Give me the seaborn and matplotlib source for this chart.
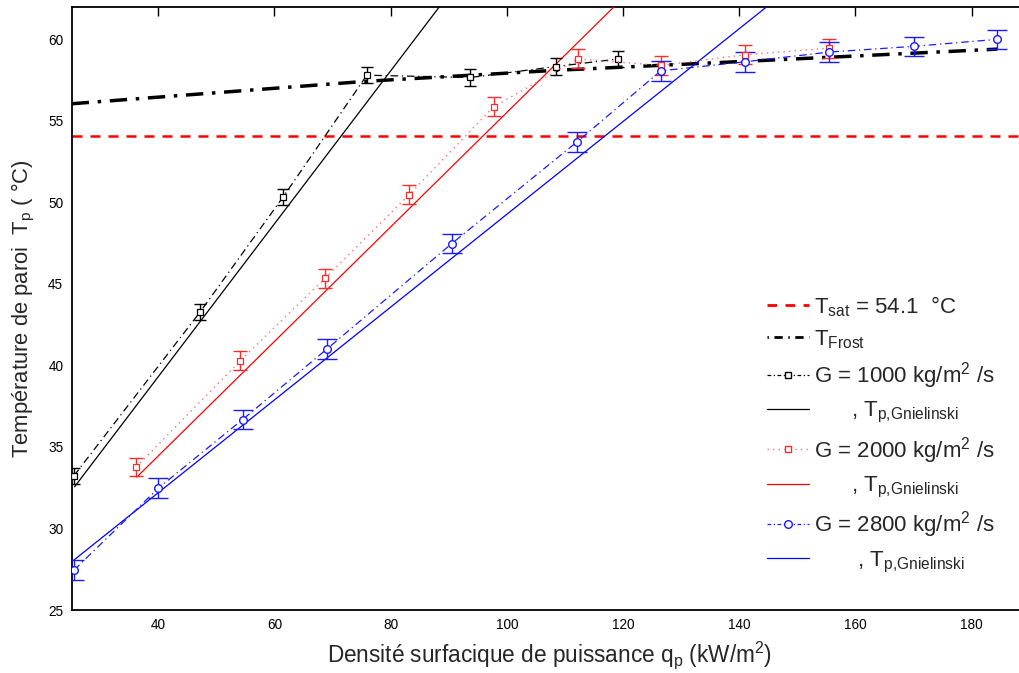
import matplotlib
matplotlib.use("Agg")
import matplotlib.pyplot as plt
from matplotlib.lines import Line2D
import numpy as np
import pandas as pd
import seaborn as sns

# ---- data ----
q_1000 = [25.5, 47.2, 61.5, 75.9, 93.7, 108.4, 119.2]
T_1000 = [33.24, 43.28, 50.34, 57.8, 57.66, 58.33, 58.8]
err_1000 = 0.5

q_2000 = [36.2, 54.1, 68.7, 83.2, 97.7, 112.2, 126.5, 140.9, 155.5]
T_2000 = [33.77, 40.28, 45.35, 50.48, 55.86, 58.8, 58.4, 59.05, 59.46]
err_2000 = 0.58

q_2800 = [25.5, 40.0, 54.5, 69.0, 90.5, 112.0, 126.5, 140.9, 155.5, 170.0, 184.4]
T_2800 = [27.45, 32.47, 36.68, 41.0, 47.47, 53.69, 58.07, 58.62, 59.22, 59.57, 60.0]
err_2800 = 0.6

# Gnielinski correlation lines
qG_1000 = [25.6, 95.0]
TG_1000 = [32.56, 65.1]
qG_2000 = [36.3, 125.0]
TG_2000 = [33.15, 64.3]
qG_2800 = [25.5, 150.0]
TG_2800 = [28.07, 63.5]

# Frost temperature
q_frost = [25.1, 75.9, 108.4, 140.9, 184.4]
T_frost = [56.05, 57.43, 58.1, 58.65, 59.4]

T_sat = 54.1

xticks = [40, 60, 80, 100, 120, 140, 160, 180]
yticks = [25, 30, 35, 40, 45, 50, 55, 60]

# ---- style ----
sns.set_theme(style="white")
plt.rcParams["font.family"] = ["Liberation Sans", "DejaVu Sans"]
plt.rcParams["mathtext.fontset"] = "custom"
plt.rcParams["mathtext.rm"] = "Liberation Sans"
plt.rcParams["mathtext.it"] = "Liberation Sans:italic"

fig = plt.figure(figsize=(10.2, 6.73), dpi=100)
ax = fig.add_axes([0.0703, 0.0936, 0.9376, 0.8964])

BLACK = "#000000"
RED = "#ff2a2a"
BLUE = "#1a1aff"

# Tsat
ax.axhline(T_sat, color="#ff0000", lw=1.8, linestyle=(0, (4, 3.2)), zorder=2)
# Frost
sns.lineplot(x=q_frost, y=T_frost, ax=ax, color=BLACK, lw=2.5,
             linestyle=(0, (5, 2.5, 1, 2.5)), sort=False, estimator=None, zorder=3)

# error bars
ax.errorbar(q_1000, T_1000, yerr=err_1000, fmt="none", ecolor=BLACK, elinewidth=1.0,
            capsize=4, capthick=1.0, zorder=4)
ax.errorbar(q_2000, T_2000, yerr=err_2000, fmt="none", ecolor=RED, elinewidth=1.0,
            capsize=5, capthick=1.0, zorder=4)
ax.errorbar(q_2800, T_2800, yerr=err_2800, fmt="none", ecolor=BLUE, elinewidth=1.0,
            capsize=7, capthick=1.0, zorder=4)

# measured series and Gnielinski lines
sns.lineplot(x=q_1000, y=T_1000, ax=ax, color=BLACK, lw=0.9, linestyle=(0, (6, 3, 1, 3)),
             marker="s", markersize=4, markerfacecolor="white", markeredgecolor=BLACK,
             markeredgewidth=0.9, sort=False, estimator=None, zorder=5)
sns.lineplot(x=qG_1000, y=TG_1000, ax=ax, color=BLACK, lw=0.9, sort=False, estimator=None, zorder=3)

sns.lineplot(x=q_2000, y=T_2000, ax=ax, color="#ff7070", lw=1.0, linestyle=(0, (1, 3)),
             marker="s", markersize=4.5, markerfacecolor="white", markeredgecolor=RED,
             markeredgewidth=0.9, sort=False, estimator=None, zorder=5)
sns.lineplot(x=qG_2000, y=TG_2000, ax=ax, color="#ff0000", lw=0.9, sort=False, estimator=None, zorder=3)

sns.lineplot(x=q_2800, y=T_2800, ax=ax, color=BLUE, lw=0.9, linestyle=(0, (6, 3, 1, 3)),
             marker="o", markersize=5.5, markerfacecolor="white", markeredgecolor=BLUE,
             markeredgewidth=1.0, sort=False, estimator=None, zorder=5)
sns.lineplot(x=qG_2800, y=TG_2800, ax=ax, color="#0000ff", lw=0.9, sort=False, estimator=None, zorder=3)

ax.set_xlim(25.1, 189.7)
ax.set_ylim(25, 62)
ax.set_xticks(xticks)
ax.set_yticks(yticks)
ax.tick_params(axis="both", which="both", direction="in", length=6.5, width=1.0,
               top=True, right=True, labelsize=9.8, colors=BLACK, pad=6)
for side in ["left", "bottom", "top", "right"]:
    ax.spines[side].set_linewidth(1.3)
    ax.spines[side].set_color(BLACK)

ax.set_xlabel(r"Densité surfacique de puissance q$_\mathrm{p}$ (kW/m$^\mathrm{2}$)", fontsize=16.3, labelpad=5)
ax.set_ylabel(r"Température de paroi  T$_\mathrm{p}$ ( °C)", fontsize=15.8, labelpad=8)

# legend
handles = [
    Line2D([], [], color="#ff0000", lw=2.0, linestyle=(0, (3.5, 3))),
    Line2D([], [], color=BLACK, lw=2.0, linestyle=(0, (0.5, 2, 3, 2))),
    Line2D([], [], color=BLACK, lw=0.9, linestyle=(0, (3, 2, 1, 2)), marker="s", markersize=4,
           markerfacecolor="white", markeredgecolor=BLACK),
    Line2D([], [], color=BLACK, lw=0.9),
    Line2D([], [], color="#ff7070", lw=1.0, linestyle=(0, (1, 3)), marker="s", markersize=4.5,
           markerfacecolor="white", markeredgecolor=RED),
    Line2D([], [], color="#ff0000", lw=0.9),
    Line2D([], [], color=BLUE, lw=0.9, linestyle=(0, (3, 2, 1, 2)), marker="o", markersize=5.5,
           markerfacecolor="white", markeredgecolor=BLUE),
    Line2D([], [], color="#0000ff", lw=0.9),
]
labels = [
    r"T$_\mathrm{sat}$ = 54.1  °C",
    r"T$_\mathrm{Frost}$",
    r"G = 1000 kg/m$^\mathrm{2}$ /s",
    r"      , T$_\mathrm{p{,}Gnielinski}$",
    r"G = 2000 kg/m$^\mathrm{2}$ /s",
    r"      , T$_\mathrm{p{,}Gnielinski}$",
    r"G = 2800 kg/m$^\mathrm{2}$ /s",
    r"       , T$_\mathrm{p{,}Gnielinski}$",
]
ax.legend(handles, labels, loc="upper left", bbox_to_anchor=(0.752, 0.563),
          bbox_transform=fig.transFigure, frameon=False, fontsize=16,
          handlelength=1.9, handletextpad=0.2, labelspacing=0.42,
          borderpad=0, borderaxespad=0)

fig.savefig("out.png", dpi=100)
